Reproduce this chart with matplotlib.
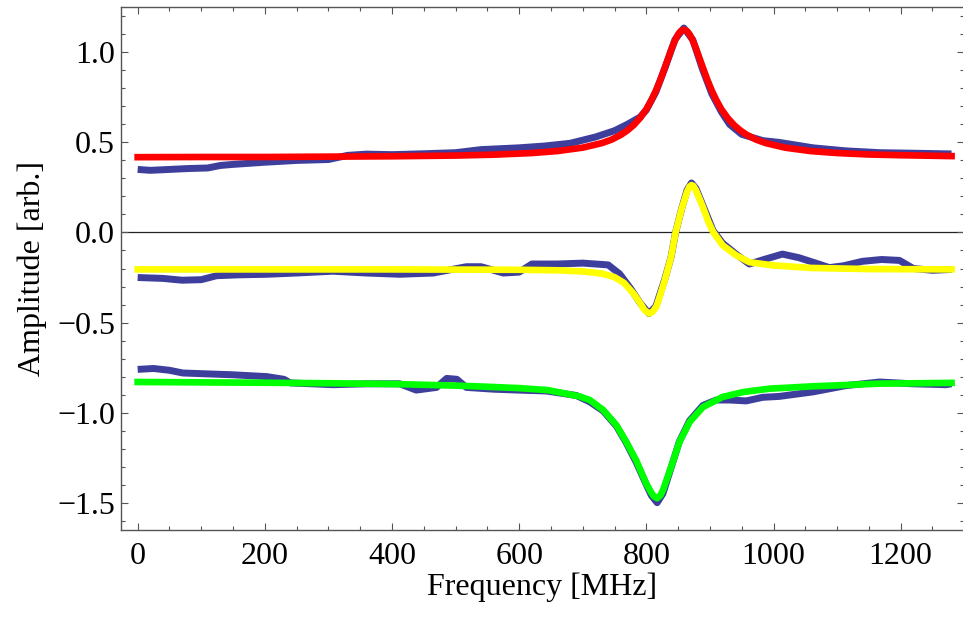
import matplotlib
matplotlib.use("Agg")
import matplotlib.pyplot as plt
from matplotlib.ticker import MultipleLocator, FuncFormatter

plt.rcParams['font.family'] = ['Liberation Serif', 'DejaVu Serif']

# fitted curves
red_x = [0, 100, 200, 300, 400, 500, 560, 620, 660, 700, 730, 745, 760, 770, 780, 790, 800, 808, 815, 822,
         830, 840, 845, 850, 854, 859, 864, 868, 873, 878, 888, 896, 903, 910, 918, 928, 938, 948, 958, 973,
         988, 1018, 1058, 1100, 1150, 1200, 1280]
red_y = [0.418, 0.419, 0.419, 0.421, 0.423, 0.427, 0.432, 0.441, 0.452, 0.471, 0.496, 0.515, 0.542, 0.566,
         0.596, 0.635, 0.684, 0.735, 0.787, 0.847, 0.924, 1.022, 1.066, 1.100, 1.118, 1.126, 1.118, 1.100,
         1.066, 1.022, 0.924, 0.847, 0.787, 0.735, 0.684, 0.635, 0.596, 0.566, 0.542, 0.515, 0.496, 0.471,
         0.452, 0.441, 0.433, 0.429, 0.424]

yel_x = [0, 200, 400, 600, 660, 700, 730, 750, 765, 780, 790, 797, 804, 810, 816, 822, 829, 839, 846, 855,
         864, 868, 871, 874, 878, 889, 897, 905, 920, 941, 962, 1000, 1060, 1150, 1280]
yel_y = [-0.205, -0.205, -0.205, -0.207, -0.21, -0.216, -0.228, -0.248, -0.28, -0.34, -0.39, -0.43, -0.45,
         -0.44, -0.41, -0.345, -0.265, -0.135, 0.0, 0.124, 0.226, 0.255, 0.263, 0.258, 0.235, 0.142, 0.065,
         0.003, -0.071, -0.126, -0.165, -0.183, -0.197, -0.203, -0.205]

grn_x = [0, 100, 200, 300, 400, 500, 540, 600, 645, 695, 711, 732, 753, 768, 784, 800, 808, 812, 817, 822,
         826, 839, 852, 868, 889, 920, 952, 994, 1062, 1167, 1280]
grn_y = [-0.830, -0.832, -0.834, -0.837, -0.841, -0.850, -0.855, -0.864, -0.875, -0.91, -0.93, -0.985,
         -1.07, -1.16, -1.265, -1.395, -1.445, -1.465, -1.475, -1.46, -1.432, -1.302, -1.163, -1.052,
         -0.969, -0.913, -0.886, -0.867, -0.854, -0.839, -0.835]

# measured data (blue), mean of the noisy trace
amp_x = [0, 20, 50, 80, 110, 130, 150, 200, 250, 300, 330, 360, 400, 450, 500, 540, 600, 640, 680, 720,
         750, 770, 790, 800, 815, 830, 845, 859, 873, 888, 903, 918, 931, 950, 983, 1009, 1062, 1114, 1167,
         1220, 1280]
amp_y = [0.350, 0.345, 0.350, 0.355, 0.358, 0.372, 0.378, 0.390, 0.400, 0.405, 0.428, 0.435, 0.432, 0.437,
         0.443, 0.460, 0.470, 0.480, 0.495, 0.530, 0.565, 0.600, 0.640, 0.680, 0.780, 0.920, 1.070, 1.135,
         1.070, 0.910, 0.770, 0.670, 0.600, 0.545, 0.510, 0.500, 0.470, 0.453, 0.443, 0.440, 0.436]

im_x = [0, 40, 70, 100, 124, 160, 203, 250, 307, 360, 412, 465, 517, 540, 575, 600, 620, 660, 700, 740,
        758, 775, 790, 804, 815, 829, 839, 846, 855, 864, 871, 878, 889, 905, 920, 941, 962, 985, 1014, 1040,
        1062, 1088, 1110, 1140, 1170, 1198, 1220, 1250, 1280]
im_y = [-0.25, -0.255, -0.265, -0.262, -0.24, -0.235, -0.232, -0.225, -0.215, -0.225, -0.232, -0.225,
        -0.19, -0.19, -0.225, -0.22, -0.175, -0.175, -0.17, -0.18, -0.23, -0.31, -0.39, -0.45, -0.41, -0.26,
        -0.135, 0.0, 0.125, 0.235, 0.275, 0.245, 0.15, 0.01, -0.06, -0.12, -0.175, -0.15, -0.12, -0.14,
        -0.165, -0.195, -0.185, -0.16, -0.15, -0.155, -0.2, -0.21, -0.205]

re_x = [0, 25, 50, 71, 110, 150, 203, 230, 240, 307, 360, 412, 438, 470, 486, 502, 517, 560, 600, 643,
        690, 711, 732, 753, 768, 784, 800, 808, 817, 826, 839, 852, 868, 889, 910, 931, 957, 983, 1009, 1062,
        1114, 1167, 1219, 1271, 1280]
re_y = [-0.76, -0.755, -0.765, -0.78, -0.785, -0.79, -0.80, -0.815, -0.835, -0.845, -0.84, -0.84, -0.875,
        -0.86, -0.81, -0.815, -0.86, -0.87, -0.875, -0.88, -0.905, -0.94, -0.99, -1.075, -1.165, -1.275,
        -1.40, -1.46, -1.50, -1.45, -1.305, -1.16, -1.045, -0.96, -0.93, -0.93, -0.935, -0.915, -0.91,
        -0.885, -0.85, -0.83, -0.84, -0.845, -0.84]

blue = '#3e3e9c'


def fmt_y(v, pos):
    return '{:.1f}'.format(round(v, 1) + 0.0).replace('-', '\u2212')


fig = plt.figure(figsize=(9.63, 6.21), dpi=100)
ax = fig.add_axes([0.1253, 0.1465, 0.876, 0.8427])

ax.axhline(0, color='#222222', lw=0.9, zorder=1)

for x, y in [(amp_x, amp_y), (im_x, im_y), (re_x, re_y)]:
    ax.plot(x, y, color=blue, lw=5, solid_capstyle='butt', solid_joinstyle='round', zorder=2)

ax.plot(red_x, red_y, color='#ff0000', lw=4.8, solid_joinstyle='round', zorder=3)
ax.plot(yel_x, yel_y, color='#ffff00', lw=4.8, solid_joinstyle='round', zorder=3)
ax.plot(grn_x, grn_y, color='#00ff00', lw=4.8, solid_joinstyle='round', zorder=3)

ax.set_xlim(-26.75, 1300)
ax.set_ylim(-1.6517, 1.2533)

ax.xaxis.set_major_locator(MultipleLocator(200))
ax.xaxis.set_minor_locator(MultipleLocator(50))
ax.yaxis.set_major_locator(MultipleLocator(0.5))
ax.yaxis.set_minor_locator(MultipleLocator(0.1))
ax.yaxis.set_major_formatter(FuncFormatter(fmt_y))

ax.tick_params(which='both', direction='in', top=True, right=True, color='#555555', width=0.8)
ax.tick_params(which='major', length=5)
ax.tick_params(which='minor', length=3)
ax.tick_params(axis='x', labelsize=23, pad=8.5)
ax.tick_params(axis='y', labelsize=23, pad=4)

for s in ax.spines.values():
    s.set_color('#555555')
    s.set_linewidth(1.0)
ax.spines['right'].set_visible(False)

ax.set_xlabel('Frequency [MHz]', fontsize=23, labelpad=1)
ax.set_ylabel('Amplitude [arb.]', fontsize=23, labelpad=7)

fig.savefig('out.png', dpi=100)
